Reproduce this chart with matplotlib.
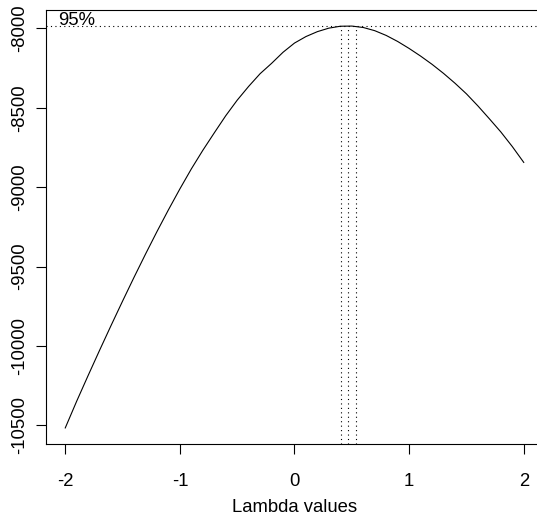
import numpy as np
import matplotlib
matplotlib.use("Agg")
import matplotlib.pyplot as plt

plt.rcParams["font.family"] = ["Liberation Sans", "DejaVu Sans"]

# Box-Cox profile log-likelihood
lambdas = [-2.0, -1.9, -1.8, -1.7, -1.6, -1.5, -1.4, -1.3, -1.2, -1.1,
           -1.0, -0.9, -0.8, -0.7, -0.6, -0.5, -0.4, -0.3, -0.2, -0.1,
           0.0, 0.1, 0.2, 0.3, 0.4, 0.5, 0.6, 0.7, 0.8, 0.9,
           1.0, 1.1, 1.2, 1.3, 1.4, 1.5, 1.6, 1.7, 1.8, 1.9, 2.0]
loglik = [-10517, -10348, -10186, -10027, -9871, -9718, -9568, -9422, -9280, -9143,
          -9011, -8885, -8768, -8658, -8550, -8452, -8365, -8285, -8220, -8150,
          -8092, -8051, -8020, -7998, -7986, -7985, -7994, -8014, -8044, -8082,
          -8126, -8174, -8226, -8283, -8345, -8412, -8488, -8569, -8652, -8744, -8844]

# lower CI, max, upper CI
ci_lambdas = [0.408, 0.467, 0.539]
x_ticks = [-2, -1, 0, 1, 2]
y_ticks = [-10500, -10000, -9500, -9000, -8500, -8000]

lim = max(loglik) - 1.92

fig = plt.figure(figsize=(5.37, 5.15), dpi=100)
ax = fig.add_axes([46 / 537, 71 / 515, 497 / 537, 434 / 515])

lw = 0.8
ax.plot(lambdas, loglik, color="black", linewidth=lw)

ymin, ymax = min(loglik), max(loglik)
pad = 0.04 * (ymax - ymin)
ax.set_ylim(ymin - pad, ymax + pad)
ax.set_xlim(-2.168, 2.168)
y0 = ax.get_ylim()[0]

ax.axhline(lim, color="black", linewidth=lw, linestyle=(0, (1, 3)))
for la in ci_lambdas:
    ax.plot([la, la], [y0, lim], color="black", linewidth=lw,
            linestyle=(0, (1, 3)))

ax.annotate("95%", xy=(lambdas[0], lim), xytext=(8.4, 1.2),
            textcoords="offset points", ha="center", va="baseline",
            fontsize=13.3)

ax.set_xticks(x_ticks)
ax.set_xticklabels([str(t) for t in x_ticks])
ax.set_yticks(y_ticks)
ax.set_yticklabels([str(t) for t in y_ticks], rotation=90, va="center")
ax.tick_params(axis="both", length=7, width=lw, labelsize=13.3)
ax.tick_params(axis="x", pad=14)
ax.tick_params(axis="y", pad=6)
ax.set_xlabel("Lambda values", fontsize=13.3, labelpad=6)

for s in ax.spines.values():
    s.set_linewidth(lw)

fig.savefig("out.png", dpi=100)
